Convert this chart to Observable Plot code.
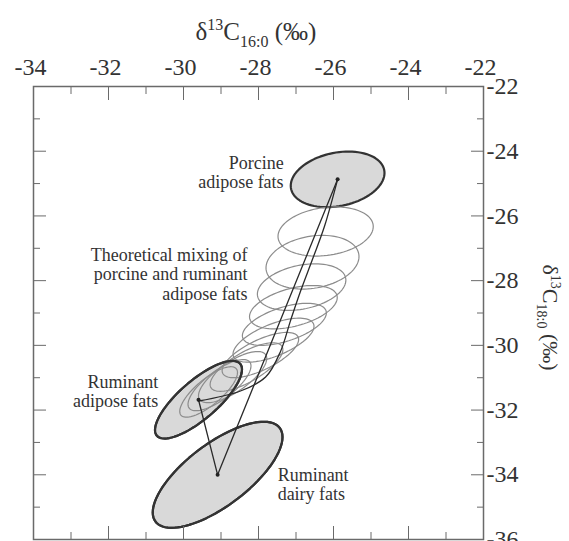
<!DOCTYPE html>
<html><head><meta charset="utf-8">
<script src="https://cdn.jsdelivr.net/npm/d3@7"></script>
<script src="https://cdn.jsdelivr.net/npm/@observablehq/plot@0.6"></script>
<style>body{margin:0;background:#fff} svg{display:block}</style>
</head><body><div id="chart"></div>
<script>
// Reference groups: centre, half-extents along x and y, correlation (tilt)
const groupNames = ["Porcine adipose fats", "Ruminant adipose fats", "Ruminant dairy fats"];
const groupX   = [-25.89, -29.60, -29.09];
const groupY   = [-24.87, -31.68, -34.00];
const groupSX  = [1.25, 1.16, 1.73];
const groupSY  = [0.86, 1.20, 1.64];
const groupRho = [0.23, 0.78, 0.71];

// Theoretical mixing ellipses (ruminant end -> porcine end)
const mixX   = [-29.33, -29.04, -28.69, -28.32, -27.95, -27.60, -27.31, -27.07, -26.85, -26.56, -26.21];
const mixY   = [-31.44, -31.23, -30.98, -30.67, -30.30, -29.84, -29.35, -28.82, -28.20, -27.43, -26.48];
const mixSX  = [0.77, 0.84, 0.91, 0.97, 1.02, 1.08, 1.12, 1.17, 1.18, 1.24, 1.27];
const mixSY  = [0.78, 0.79, 0.79, 0.75, 0.70, 0.68, 0.65, 0.67, 0.72, 0.83, 0.76];
const mixRho = [0.77, 0.75, 0.73, 0.72, 0.69, 0.63, 0.54, 0.44, 0.30, 0.21, 0.20];

// Mixing curve (ruminant adipose -> porcine)
const curveX = [-29.60, -28.48, -27.81, -27.41, -27.15, -26.88, -26.56, -26.24, -25.89];
const curveY = [-31.72, -31.41, -30.98, -30.18, -29.25, -28.33, -27.34, -26.32, -24.87];

// Annotations
const labelText = ["Porcine\nadipose fats", "Theoretical mixing of\nporcine and ruminant\nadipose fats", "Ruminant\nadipose fats", "Ruminant\ndairy fats"];
const labelX = [-27.33, -28.29, -30.67, -27.49];
const labelY = [-24.65, -27.80, -31.43, -34.30];
const labelAnchor = ["end", "end", "end", "start"];

// Ticks
const xMajor = [-34, -32, -30, -28, -26, -24, -22];
const xMinor = [-33, -31, -29, -27, -25, -23];
const yMajor = [-36, -34, -32, -30, -28, -26, -24, -22];
const yMinor = [-35, -33, -31, -29, -27, -25, -23];

function outline(id, cx, cy, sx, sy, rho) {
  const pts = [];
  for (let k = 0; k <= 90; k++) {
    const t = (k / 90) * 2 * Math.PI;
    pts.push({id, x: cx + sx * Math.cos(t), y: cy + sy * (rho * Math.cos(t) + Math.sqrt(1 - rho * rho) * Math.sin(t))});
  }
  return pts;
}
const groupPts = groupNames.flatMap((g, i) => outline(g, groupX[i], groupY[i], groupSX[i], groupSY[i], groupRho[i]));
const mixPts = mixX.flatMap((x, i) => outline("m" + i, x, mixY[i], mixSX[i], mixSY[i], mixRho[i]));
const centers = groupNames.map((g, i) => ({x: groupX[i], y: groupY[i]}));
const triangle = [1, 2, 0].map(i => ({x: groupX[i], y: groupY[i]}));
const curvePts = curveX.map((x, i) => ({x, y: curveY[i]}));
const labels = labelText.map((t, i) => ({t, x: labelX[i], y: labelY[i], a: labelAnchor[i]}));

const fmt = d => String(d);
const axisCol = "#6a6a6a";
const blank = () => "";

const plot = Plot.plot({
  width: 569, height: 541,
  marginLeft: 33, marginRight: 86, marginTop: 86, marginBottom: 2,
  x: {domain: [-34, -22]},
  y: {domain: [-36, -22]},
  style: {fontFamily: '"Liberation Serif", "Times New Roman", serif', background: "#fff", color: "#333"},
  marks: [
    Plot.line(groupPts, {x: "x", y: "y", z: "id", fill: "#d9d9d9", stroke: "#333", strokeWidth: 2.2, curve: "linear-closed"}),
    Plot.line(mixPts, {x: "x", y: "y", z: "id", stroke: "#8c8c8c", strokeWidth: 1.2, curve: "linear-closed"}),
    Plot.line(groupPts.filter(d => d.id !== groupNames[0]), {x: "x", y: "y", z: "id", stroke: "#333", strokeWidth: 2.2, curve: "linear-closed"}),
    Plot.line(triangle, {x: "x", y: "y", stroke: "#2a2a2a", strokeWidth: 1.3}),
    Plot.line(curvePts, {x: "x", y: "y", stroke: "#2a2a2a", strokeWidth: 1.3, curve: "catmull-rom"}),
    Plot.dot(centers, {x: "x", y: "y", r: 2, fill: "#222"}),
    Plot.text(labels.filter(d => d.a === "end"), {x: "x", y: "y", text: "t", textAnchor: "end", fontSize: 18, lineHeight: 1.07, fill: "#333"}),
    Plot.text(labels.filter(d => d.a === "start"), {x: "x", y: "y", text: "t", textAnchor: "start", fontSize: 18, lineHeight: 1.07, fill: "#333"}),
    Plot.frame({stroke: axisCol, strokeWidth: 1.5}),
    // ticks (inward)
    Plot.axisX({anchor: "top", ticks: xMajor, tickSize: -13, tickFormat: blank, label: null, stroke: axisCol}),
    Plot.axisX({anchor: "top", ticks: xMinor, tickSize: -7, tickFormat: blank, label: null, stroke: axisCol}),
    Plot.axisX({anchor: "bottom", ticks: xMajor, tickSize: -13, tickFormat: blank, label: null, stroke: axisCol}),
    Plot.axisX({anchor: "bottom", ticks: xMinor, tickSize: -7, tickFormat: blank, label: null, stroke: axisCol}),
    Plot.axisY({anchor: "right", ticks: yMajor, tickSize: -13, tickFormat: blank, label: null, stroke: axisCol}),
    Plot.axisY({anchor: "right", ticks: yMinor, tickSize: -7, tickFormat: blank, label: null, stroke: axisCol}),
    Plot.axisY({anchor: "left", ticks: yMajor, tickSize: -13, tickFormat: blank, label: null, stroke: axisCol}),
    Plot.axisY({anchor: "left", ticks: yMinor, tickSize: -7, tickFormat: blank, label: null, stroke: axisCol}),
    // tick labels
    Plot.axisX({anchor: "top", ticks: xMajor, tickSize: 0, tickPadding: 12, dx: -3, tickFormat: fmt, label: null, fontSize: 24, fill: "#333"}),
    Plot.axisY({anchor: "right", ticks: yMajor, tickSize: 0, tickPadding: 3, tickFormat: fmt, label: null, fontSize: 24, fill: "#333"})
  ]
});
document.getElementById("chart").appendChild(plot);

// axis titles with super/subscripts
const svg = d3.select(plot);
const xs = plot.scale("x");
const ys = plot.scale("y");
function title(sel, sub, fs, ss, up, down) {
  sel.append("tspan").text("δ");
  sel.append("tspan").attr("dy", -up).attr("font-size", ss).text("13");
  sel.append("tspan").attr("dy", up).text("C");
  sel.append("tspan").attr("dy", down).attr("font-size", ss).text(sub);
  sel.append("tspan").attr("dy", -down).text(" (‰)");
}
const tx = svg.append("text")
  .attr("x", (xs.apply(-34) + xs.apply(-22)) / 2 - 2).attr("y", 40)
  .attr("text-anchor", "middle").attr("font-size", 25).attr("fill", "#333")
  .attr("font-family", '"Liberation Serif", serif');
title(tx, "16:0", 25, 16, 10, 7);
const ty = svg.append("text")
  .attr("transform", `translate(543,${(ys.apply(-36) + ys.apply(-22)) / 2 + 5}) rotate(90)`)
  .attr("text-anchor", "middle").attr("font-size", 22).attr("fill", "#333")
  .attr("font-family", '"Liberation Serif", serif');
title(ty, "18:0", 22, 14, 8, 6);
</script>
</body></html>
